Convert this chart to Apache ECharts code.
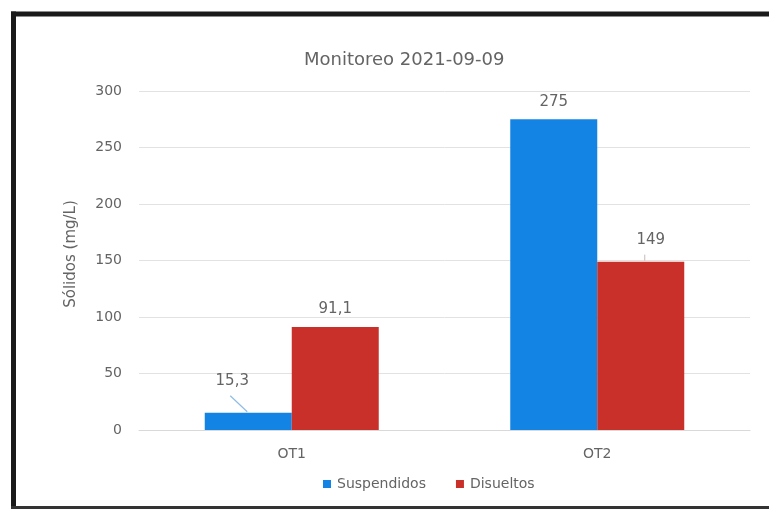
<!DOCTYPE html>
<html>
<head>
<meta charset="utf-8">
<style>
  html, body { margin: 0; padding: 0; background: #ffffff; overflow: hidden; }
  #chart { width: 769px; height: 511px; }
</style>
<script src="https://cdn.jsdelivr.net/npm/echarts@6/dist/echarts.min.js"></script>
</head>
<body>
<div id="chart"></div>
<script>
// Sampling points and measured solids (mg/L)
const categories = ['OT1', 'OT2'];
const suspendidos = [15.3, 275];
const disueltos = [91.1, 149];
const seriesNames = ['Suspendidos', 'Disueltos'];
const chartTitle = 'Monitoreo 2021-09-09';
const yAxisName = 'Sólidos (mg/L)';

const FONT = '"DejaVu Sans", "Noto Sans", sans-serif';
const TEXT = '#646464';
const BAR_W = 87;
const LEADER = '#8fbce6';

const fmt = p => String(p.value).replace('.', ',');

const chart = echarts.init(document.getElementById('chart'), null, { renderer: 'canvas' });

chart.setOption({
  backgroundColor: '#ffffff',
  animation: false,
  textStyle: { fontFamily: FONT },
  title: {
    text: chartTitle,
    left: 299,
    top: 46,
    textStyle: { fontFamily: FONT, fontSize: 18, fontWeight: 'normal', color: TEXT }
  },
  legend: {
    data: seriesNames,
    left: 318,
    top: 472,
    itemWidth: 8,
    itemHeight: 8,
    itemGap: 30,
    icon: 'rect',
    textStyle: { fontFamily: FONT, fontSize: 14, color: TEXT, padding: [0, 0, 0, 1] }
  },
  grid: { left: 139, right: 19, top: 91, bottom: 81 },
  xAxis: {
    type: 'category',
    data: categories,
    axisLine: { show: true, lineStyle: { color: '#d9d9d9' } },
    axisTick: { show: false },
    axisLabel: { color: TEXT, fontSize: 14, margin: 17, fontFamily: FONT }
  },
  yAxis: {
    type: 'value',
    min: 0,
    max: 300,
    interval: 50,
    name: yAxisName,
    nameLocation: 'middle',
    nameGap: 60,
    nameTextStyle: { color: TEXT, fontSize: 15, fontFamily: FONT, padding: [0, 0, 0, 13] },
    axisLine: { show: false },
    axisTick: { show: false },
    axisLabel: { color: TEXT, fontSize: 14, margin: 17, fontFamily: FONT },
    splitLine: { lineStyle: { color: '#e2e2e2', width: 1 } }
  },
  series: [
    {
      name: seriesNames[0],
      type: 'bar',
      data: suspendidos,
      barWidth: BAR_W,
      barGap: '0%',
      itemStyle: { color: '#1484e4' },
      label: {
        show: true, position: 'top', distance: 10,
        formatter: fmt, color: TEXT, fontSize: 15, fontFamily: FONT
      },
      labelLayout: p => p.dataIndex === 0 ? { dx: -16, dy: -14 } : {}
    },
    {
      name: seriesNames[1],
      type: 'bar',
      data: disueltos,
      barWidth: BAR_W,
      barGap: '0%',
      itemStyle: { color: '#c9302a' },
      label: {
        show: true, position: 'top', distance: 10,
        formatter: fmt, color: TEXT, fontSize: 15, fontFamily: FONT
      },
      labelLayout: p => p.dataIndex === 1 ? { dx: 10, dy: -4 } : {}
    }
  ]
});

// Leader lines for the displaced value labels, anchored on the bar tops
const barTop = (seriesIdx, catIdx, value) => {
  const cx = chart.convertToPixel({ xAxisIndex: 0 }, categories[catIdx]);
  const shift = seriesIdx === 0 ? -BAR_W / 2 : BAR_W / 2;
  return [cx + shift, chart.convertToPixel({ yAxisIndex: 0 }, value)];
};
const s0 = barTop(0, 0, suspendidos[0]);
const s1 = barTop(1, 1, disueltos[1]);

chart.setOption({
  graphic: [
    { type: 'line', silent: true, shape: { x1: s0[0] - 18, y1: s0[1] - 17, x2: s0[0] - 1, y2: s0[1] - 1 }, style: { stroke: LEADER, lineWidth: 1.2 } },
    { type: 'line', silent: true, shape: { x1: s1[0] + 4, y1: s1[1] - 7, x2: s1[0] + 4, y2: s1[1] - 1 }, style: { stroke: '#c9b9b6', lineWidth: 1 } },
    // Frame: top, left and bottom edges; the right side runs off the page
    { type: 'line', silent: true, shape: { x1: 11, y1: 14, x2: 769, y2: 14 }, style: { stroke: '#1a1a1a', lineWidth: 5 } },
    { type: 'line', silent: true, shape: { x1: 13.5, y1: 11.5, x2: 13.5, y2: 508.5 }, style: { stroke: '#1a1a1a', lineWidth: 5 } },
    { type: 'line', silent: true, shape: { x1: 11, y1: 507.5, x2: 769, y2: 507.5 }, style: { stroke: '#333333', lineWidth: 3 } }
  ]
});
</script>
</body>
</html>
